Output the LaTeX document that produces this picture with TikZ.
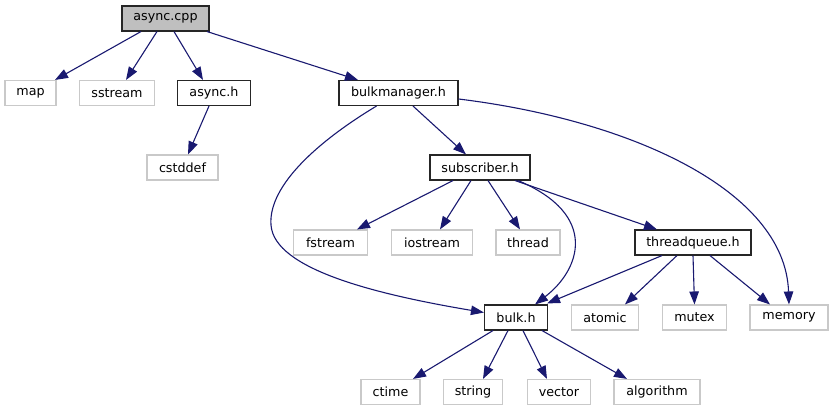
\documentclass[tikz,border=0pt]{standalone}
\usepackage{fontspec}
\setmainfont{DejaVu Sans}
\usetikzlibrary{arrows.meta}
\definecolor{edgeblue}{HTML}{191970}
\definecolor{sysgrey}{HTML}{BFBFBF}
\begin{document}
\begin{tikzpicture}[x=1pt,y=-1pt,
  box/.style={draw, rectangle, line width=1.1pt, minimum height=25pt, inner sep=0pt,
    font=\fontsize{12.7}{15}\selectfont},
  hdr/.style={box, draw=black!85},
  sys/.style={box, draw=sysgrey!85},
  root/.style={hdr, fill=sysgrey},
  edge/.style={draw=edgeblue, line width=1.1pt,
    -{Triangle[length=13pt,width=9.5pt,fill=edgeblue]}}]
\useasboundingbox (0,0) rectangle (833,411);

% nodes, row by row
\node[root, minimum width=87pt] (cpp) at (165.5,18.5) {async.cpp};

\node[sys, minimum width=51pt]  (map)  at (30.5,93)  {map};
\node[sys, minimum width=75pt]  (sstr) at (117,93)   {sstream};
\node[hdr, minimum width=73pt]  (ah)   at (214,93)   {async.h};
\node[hdr, minimum width=119pt] (bm)   at (398.5,93) {bulkmanager.h};

\node[sys, minimum width=71pt]  (cdef) at (182.5,167.5) {cstddef};
\node[hdr, minimum width=100pt] (sub)  at (480,167.5)   {subscriber.h};

\node[sys, minimum width=74pt]  (fstr) at (330.5,242.5) {fstream};
\node[sys, minimum width=81pt]  (iostr) at (432,242.5)  {iostream};
\node[sys, minimum width=64pt]  (thr)  at (528,242.5)   {thread};
\node[hdr, minimum width=116pt] (tq)   at (693,242.5)   {threadqueue.h};

\node[hdr, minimum width=63pt]  (bulk) at (516,317.5)   {bulk.h};
\node[sys, minimum width=67pt]  (atom) at (605,317.5)   {atomic};
\node[sys, minimum width=64pt]  (mtx)  at (694.5,317.5) {mutex};
\node[sys, minimum width=78pt]  (mem)  at (789,317.5)   {memory};

\node[sys, minimum width=59pt]  (ctime) at (390.5,392) {ctime};
\node[sys, minimum width=59pt]  (str)   at (473,392)   {string};
\node[sys, minimum width=63pt]  (vec)   at (559,392)   {vector};
\node[sys, minimum width=86pt]  (alg)   at (657,392)   {algorithm};

% async.cpp
\draw[edge] ([xshift=-24.5pt]cpp.south) -- ([xshift=24.5pt]map.north);
\draw[edge] ([xshift=-8.5pt]cpp.south) -- ([xshift=9pt]sstr.north);
\draw[edge] ([xshift=8.5pt]cpp.south) -- ([xshift=-11pt]ah.north);
\draw[edge] ([xshift=41.5pt]cpp.south) -- ([xshift=-40.5pt]bm.north);

% async.h
\draw[edge] ([xshift=-5pt]ah.south) -- ([xshift=5.5pt]cdef.north);

% bulkmanager.h
\draw[edge] ([xshift=14.5pt]bm.south) -- ([xshift=-14pt]sub.north);
\draw[edge] ([xshift=-22pt]bm.south) .. controls (320,140) and (268,185) .. (271,225)
  .. controls (274,270) and (380,295) .. ([yshift=5pt]bulk.west);
\draw[edge] ([yshift=-6pt]bm.east) .. controls (630,120) and (785,190) .. (mem.north);

% subscriber.h
\draw[edge] ([xshift=-27pt]sub.south) -- ([xshift=26.5pt]fstr.north);
\draw[edge] ([xshift=-9pt]sub.south) -- ([xshift=8pt]iostr.north);
\draw[edge] ([xshift=8pt]sub.south) -- ([xshift=-8pt]thr.north);
\draw[edge] ([xshift=35pt]sub.south) -- ([xshift=-36pt]tq.north);
\draw[edge] ([xshift=38pt]sub.south) .. controls (600,215) and (580,270) .. ([xshift=19pt]bulk.north);

% threadqueue.h
\draw[edge] ([xshift=-31pt]tq.south) -- ([xshift=-1pt,yshift=1pt]bulk.north east);
\draw[edge] ([xshift=-16pt]tq.south) -- ([xshift=20pt]atom.north);
\draw[edge] (tq.south) -- (mtx.north);
\draw[edge] ([xshift=17pt]tq.south) -- ([xshift=-19pt]mem.north);

% bulk.h
\draw[edge] ([xshift=-23pt]bulk.south) -- ([xshift=22.5pt]ctime.north);
\draw[edge] ([xshift=-8pt]bulk.south) -- ([xshift=10pt]str.north);
\draw[edge] ([xshift=7pt]bulk.south) -- ([xshift=-12pt]vec.north);
\draw[edge] ([xshift=26pt]bulk.south) -- ([xshift=-30pt]alg.north);
\end{tikzpicture}
\end{document}
